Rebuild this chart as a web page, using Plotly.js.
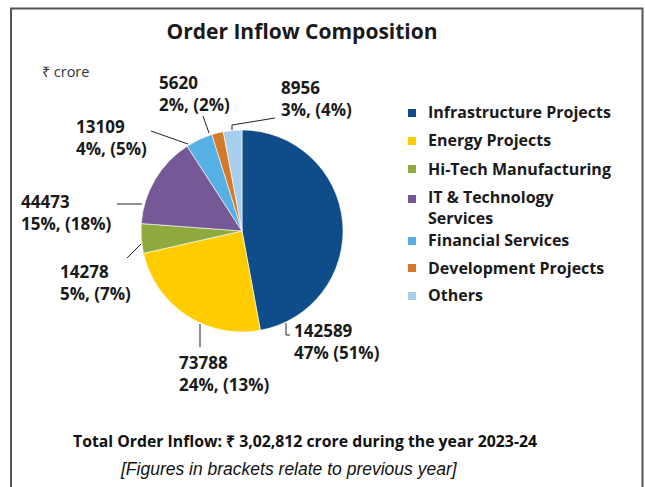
<!DOCTYPE html>
<html>
<head>
<meta charset="utf-8">
<script src="https://cdn.plot.ly/plotly-3.0.1.min.js"></script>
<style>html,body{margin:0;padding:0;background:#fff;}#chart{width:645px;height:487px;}</style>
</head>
<body>
<div id="chart"></div>
<script>
// ---- data ----
const categories = ["Infrastructure Projects", "Energy Projects", "Hi-Tech Manufacturing", "IT & Technology<br>Services", "Financial Services", "Development Projects", "Others"];
const values2024 = [142589, 73788, 14278, 44473, 13109, 5620, 8956];
const prevYearPct = [51, 13, 7, 18, 5, 2, 4];
const pctSeparator = [" ", ", ", ", ", ", ", ", ", ", ", ", "];
const sliceColors = ["#0F4C8A", "#FFCC00", "#8EA93E", "#775897", "#56B0E3", "#D4782A", "#A9CFEE"];

// ---- layout helpers (pixel positions -> paper) ----
const W = 645, H = 487;
const px = x => x / W;
const py = y => 1 - y / H;

// label text-block positions (left edge, vertical centre) in px
const labelPos = [[293, 341.5], [178, 373], [59, 282.5], [20, 212], [75, 137.5], [158, 93], [280, 99]];
// leader line paths in px
const leaders = [
  [[286, 323], [286, 335], [290, 335]],
  [[200, 324], [200, 347]],
  [[141, 244], [127, 258]],
  [[142, 204], [117, 204]],
  [[188, 144], [151, 131]],
  [[209, 133], [203, 116]],
  [[232, 130], [232, 125], [275, 118]]
];
// legend rows: marker centre y (px) and text block centre y (px)
const legendMarkerY = [113, 141, 169, 199, 241, 268, 296];
const legendTextY = [112.5, 140.5, 168.5, 207, 240, 267.5, 295];
const legendMarkerX = 412, legendTextX = 427, legendMarkerHalf = 4;

const total = values2024.reduce((a, b) => a + b, 0);
const labelFont = {family: "Open Sans, sans-serif", size: 17, color: "#1a1a1a", weight: 700};

const annotations = values2024.map((v, i) => ({
  xref: "paper", yref: "paper",
  x: px(labelPos[i][0]), y: py(labelPos[i][1]),
  xanchor: "left", yanchor: "middle", align: "left",
  showarrow: false, borderpad: 0,
  text: "<b>" + v + "<br>" + Math.round(v / total * 100) + "%" + pctSeparator[i] + "(" + prevYearPct[i] + "%)</b>",
  font: labelFont
}));

// manual legend text
categories.forEach((c, i) => {
  annotations.push({
    xref: "paper", yref: "paper",
    x: px(legendTextX), y: py(legendTextY[i]),
    xanchor: "left", yanchor: "middle", align: "left",
    showarrow: false, borderpad: 0,
    text: "<b>" + c + "</b>",
    font: {family: "Open Sans, sans-serif", size: 16, color: "#1a1a1a"}
  });
});

annotations.push({
  xref: "paper", yref: "paper", x: px(40), y: py(72), xanchor: "left", yanchor: "middle",
  showarrow: false, text: "₹ crore",
  font: {family: "Open Sans, sans-serif", size: 14.5, color: "#333"}
});
annotations.push({
  xref: "paper", yref: "paper", x: px(305), y: py(441), xanchor: "center", yanchor: "middle",
  showarrow: false, text: "<b>Total Order Inflow: ₹ 3,02,812 crore during the year 2023-24</b>",
  font: {family: "Open Sans, sans-serif", size: 15.8, color: "#111"}
});
annotations.push({
  xref: "paper", yref: "paper", x: px(289), y: py(469), xanchor: "center", yanchor: "middle",
  showarrow: false, text: "<i>[Figures in brackets relate to previous year]</i>",
  font: {family: "Liberation Sans, Arial, sans-serif", size: 17.5, color: "#111"}
});

const shapes = leaders.map(pts => ({
  type: "path", xref: "paper", yref: "paper",
  path: pts.map((p, k) => (k === 0 ? "M" : "L") + px(p[0]) + "," + py(p[1])).join(" "),
  line: {color: "#222", width: 1}
}));
// manual legend markers
sliceColors.forEach((col, i) => {
  shapes.push({
    type: "rect", xref: "paper", yref: "paper",
    x0: px(legendMarkerX - legendMarkerHalf), x1: px(legendMarkerX + legendMarkerHalf),
    y0: py(legendMarkerY[i] + legendMarkerHalf), y1: py(legendMarkerY[i] - legendMarkerHalf),
    fillcolor: col, line: {width: 0}
  });
});
shapes.push({
  type: "rect", xref: "paper", yref: "paper",
  x0: px(11), x1: px(642.5), y0: py(8.5), y1: py(500),
  line: {color: "#555", width: 2}, layer: "below"
});

// pie geometry: centre (242,231), radius 101 px
const cx = 242, cy = 231, r = 101;

const trace = {
  type: "pie",
  labels: categories,
  values: values2024,
  sort: false,
  direction: "clockwise",
  rotation: 0,
  textinfo: "none",
  hoverinfo: "skip",
  showlegend: false,
  marker: {colors: sliceColors, line: {color: "#ffffff", width: 0.6}},
  domain: {x: [px(cx - r), px(cx + r)], y: [py(cy + r), py(cy - r)]}
};

const layout = {
  width: W, height: H,
  margin: {l: 0, r: 0, t: 0, b: 0, autoexpand: false},
  paper_bgcolor: "#fff",
  title: {
    text: "<b>Order Inflow Composition</b>",
    x: px(302), y: py(32), xanchor: "center", yanchor: "middle",
    font: {family: "Open Sans, sans-serif", size: 21, color: "#1a1a1a"}
  },
  showlegend: false,
  annotations: annotations,
  shapes: shapes
};

Plotly.newPlot("chart", [trace], layout, {displayModeBar: false, staticPlot: true});
</script>
</body>
</html>
